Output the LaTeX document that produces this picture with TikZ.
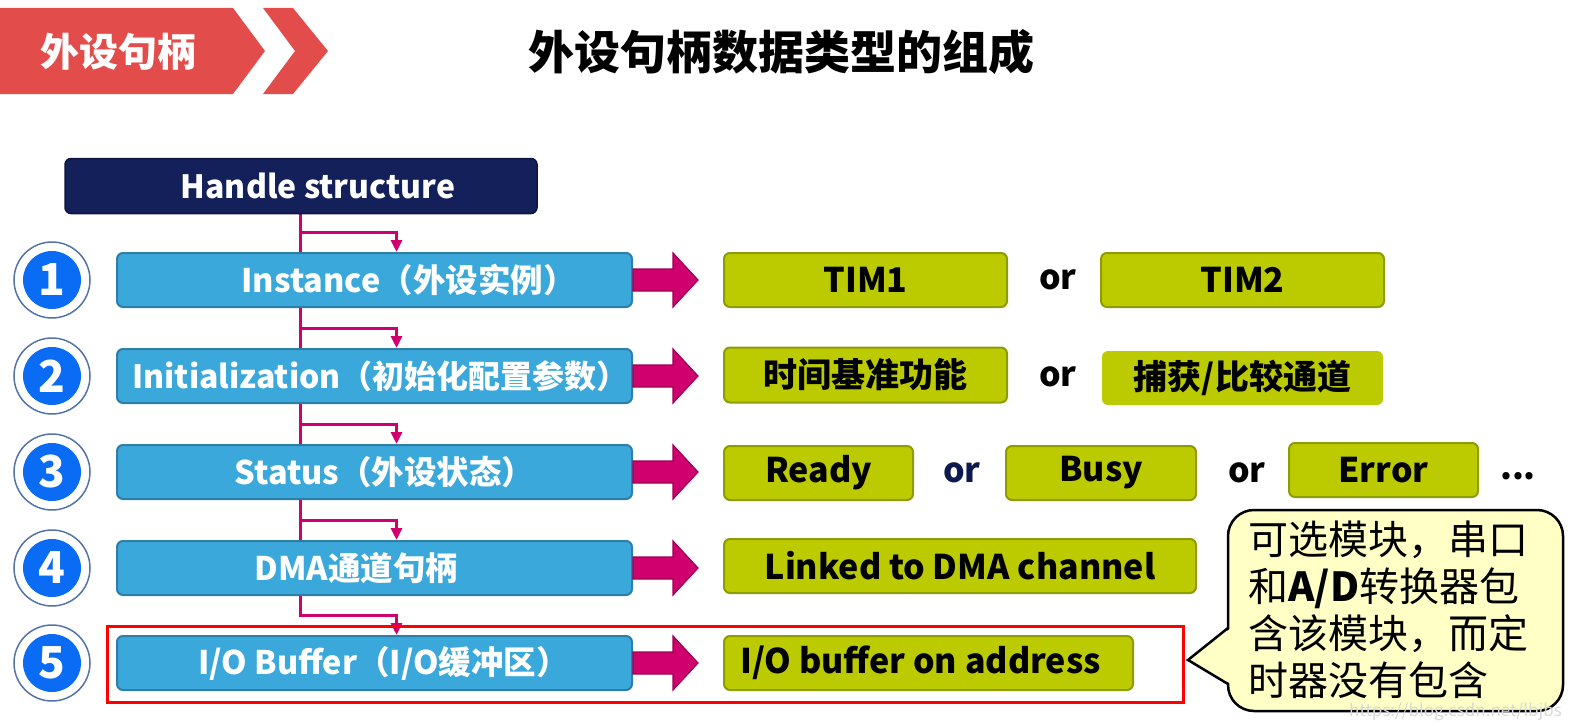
\documentclass[tikz,border=0pt]{standalone}
\usepackage{fontspec}
\setmainfont{Noto Sans CJK SC}
\usetikzlibrary{arrows.meta,backgrounds}
\definecolor{bannerred}{HTML}{E24C4B}
\definecolor{navy}{HTML}{14205A}
\definecolor{boxblue}{HTML}{3BA8DB}
\definecolor{boxblueedge}{HTML}{2E7FA8}
\definecolor{mag}{HTML}{D0006F}
\definecolor{magedge}{HTML}{9E0055}
\definecolor{limegreen}{HTML}{BBCB00}
\definecolor{limeedge}{HTML}{8F9C00}
\definecolor{numblue}{HTML}{0A6CF5}
\definecolor{ringedge}{HTML}{5574A8}
\definecolor{bubble}{HTML}{FFFFC6}
\definecolor{ornavy}{HTML}{0E1A4F}
\tikzset{
  fs/.style={font=\fontsize{#1}{#1}\selectfont\bfseries},
  hsbox/.style={fill=navy, draw=navy!70!black, line width=1.5pt, rounded corners=6pt, text=white, fs=32, minimum width=472pt, minimum height=55pt, inner sep=0pt},
  bluebox/.style={fill=boxblue, draw=boxblueedge, line width=2pt, rounded corners=6pt, text=white, fs=32.5, minimum width=515pt, minimum height=54pt, inner sep=0pt},
  greenbox/.style={fill=limegreen, draw=limeedge, line width=2pt, rounded corners=6pt, text=black, fs=34, minimum height=54pt, inner sep=0pt},
  ortext/.style={fs=34, text=black, inner sep=0pt},
  ring/.style={circle, fill=white, draw=ringedge, line width=1.5pt, minimum size=76pt, inner sep=0pt},
  numdot/.style={circle, fill=numblue, text=white, minimum size=58pt, inner sep=0pt, font=\fontsize{44}{44}\selectfont\bfseries},
  link/.style={draw=mag, line width=3pt, -{Triangle[length=12pt,width=11pt]}},
  bigarrow/.style={fill=mag, draw=magedge, line width=1.2pt, line join=miter},
}
\begin{document}
\begin{tikzpicture}[x=1pt,y=-1pt]
\useasboundingbox (0,0) rectangle (1573,725);
% banner
\fill[bannerred] (0,8) -- (233,8) -- (265,51) -- (233,94) -- (0,94) -- cycle;
\fill[bannerred] (263,8) -- (293,8) -- (328,51) -- (293,94) -- (263,94) -- (295,51) -- cycle;
\node[fs=39, text=white] (banner) at (118,52) {外设句柄};
\node[fs=46, text=black] (title) at (781,52) {外设句柄数据类型的组成};

% handle structure
\node[hsbox] (hs) at (301,186) {\hspace*{34pt}Handle structure};

% blue boxes
\node[bluebox] (b1) at (374.5,280) {\hspace*{68pt}Instance（外设实例）};
\node[bluebox, fs=32] (b2) at (374.5,376) {\hspace*{12pt}Initialization（初始化配置参数）};
\node[bluebox] (b3) at (374.5,472) {\hspace*{20pt}Status（外设状态）};
\node[bluebox] (b4) at (374.5,568) {DMA通道句柄\hspace*{36pt}};
\node[bluebox] (b5) at (374.5,663) {\hspace*{18pt}I/O Buffer（I/O缓冲区）};

% links on background
\begin{scope}[on background layer]
\foreach \b in {b1,b2,b3,b4,b5}{
  \draw[link] ([xshift=-1pt]hs.south) |- ([xshift=22pt,yshift=20pt]\b.north) -- ([xshift=22pt]\b.north);
}
\end{scope}

% number circles
\foreach \i/\y in {1/280,2/376,3/472,4/568,5/663}{
  \node[ring] (r\i) at (52,\y) {};
  \node[numdot] (n\i) at (r\i) {\i};
}

% green boxes
\node[greenbox, minimum width=283pt] (g1a) at (865.5,280) {TIM1};
\node[ortext] (or1) at (1058,280) {or};
\node[greenbox, minimum width=283pt] (g1b) at (1242.5,280) {TIM2};

\node[greenbox, minimum width=283pt, minimum height=55pt] (g2a) at (865.5,375) {时间基准功能};
\node[ortext] (or2) at (1058,377) {or};
\node[greenbox, draw=none, minimum width=281pt] (g2b) at (1242.5,378) {捕获/比较通道};

\node[greenbox, minimum width=189pt] (g3a) at (818.5,473) {Ready};
\node[ortext, text=ornavy] (or3) at (962,473) {or};
\node[greenbox, minimum width=190pt] (g3b) at (1101,473) {Busy};
\node[ortext] (or4) at (1247,473) {or};
\node[greenbox, minimum width=189pt] (g3c) at (1383.5,470) {Error};
\node[ortext] (dots) at (1518,476) {...};

\node[greenbox, minimum width=472pt] (g4) at (960,566) {Linked to DMA channel};
\node[greenbox, minimum width=409pt] (g5) at (928.5,663) {I/O buffer on address\hspace*{16pt}};

% big arrows
\foreach \b in {b1,b2,b3,b4,b5}{
  \filldraw[bigarrow] ([yshift=11pt]\b.east) -- ++(40,0) -- ++(0,-16) -- ++(25,27) -- ++(-25,27) -- ++(0,-16) -- ++(-40,0) -- cycle;
}

% red frame
\draw[red, line width=3pt] (107,626) rectangle (1183,702);

% callout bubble
\draw[fill=bubble, draw=black, line width=2.5pt, rounded corners=26pt] (1228,510) rectangle (1563,711);
\fill[bubble] (1231,628) -- (1188,660) -- (1231,684) -- cycle;
\draw[black, line width=2.5pt, line join=miter] (1228,628) -- (1188,660) -- (1228,684);
\node[anchor=south east, inner sep=0pt, text=black!15, font=\fontsize{17}{17}\selectfont] (wm) at (1562,721) {https://blog.csdn.net/lbjbs};
\node[anchor=north west, align=left, inner sep=0pt, font=\fontsize{40}{47}\selectfont] (note) at (1248,521)
  {可选模块，串口\\和\textbf{A/D}转换器包\\含该模块，而定\\时器没有包含};
\end{tikzpicture}
\end{document}
